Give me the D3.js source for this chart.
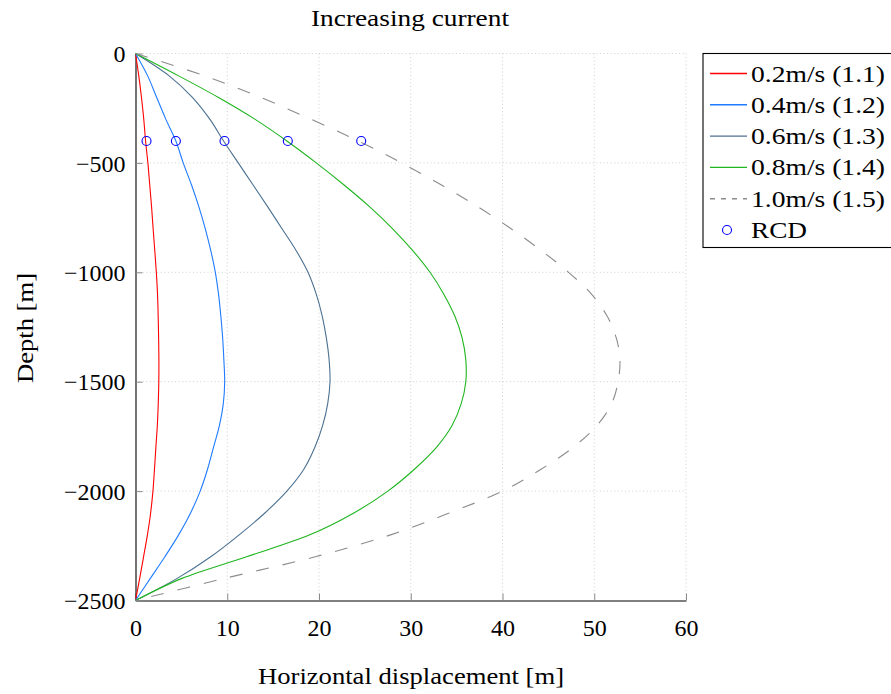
<!DOCTYPE html>
<html>
<head>
    <title>Increasing current</title>
    <script src="https://d3js.org/d3.v7.min.js"></script>
    <style>
        body { margin: 0; background: #fff; }
        text { font-family: "Liberation Serif", "Times New Roman", serif; fill: #000; }
    </style>
</head>
<body>
<script>
// depth samples [m]
const depths = [0, -100, -200, -300, -400, -500, -600, -700, -800, -900, -1000, -1100, -1200,
    -1300, -1400, -1500, -1600, -1700, -1800, -1900, -2000, -2100, -2200, -2300, -2400, -2500];

// horizontal displacement [m] per current speed
const disp02 = [0, 0.35, 0.65, 0.9, 1.1, 1.35, 1.55, 1.75, 1.92, 2.1, 2.27, 2.4, 2.47,
    2.52, 2.55, 2.54, 2.48, 2.38, 2.22, 2.07, 1.9, 1.65, 1.3, 0.88, 0.45, 0];
const disp04 = [0, 1.3, 2.3, 3.3, 4.4, 5.2, 6.1, 6.9, 7.6, 8.2, 8.7, 9.05, 9.3,
    9.5, 9.63, 9.72, 9.57, 9.15, 8.5, 7.85, 7.05, 6.0, 4.7, 3.2, 1.6, 0];
const disp06 = [0, 3.6, 6.2, 8.1, 9.6, 11.2, 12.8, 14.4, 15.95, 17.5, 18.8, 19.7, 20.35,
    20.8, 21.1, 21.2, 20.95, 20.4, 19.55, 18.35, 16.5, 14.1, 11.3, 8.2, 4.5, 0];
const disp08 = [0, 4.6, 9.0, 13.0, 16.5, 19.7, 22.7, 25.5, 28.0, 30.2, 32.1, 33.6, 34.8,
    35.6, 36.0, 36.0, 35.5, 34.5, 32.8, 30.4, 27.5, 23.8, 19.0, 12.1, 5.0, 0];
const disp10 = [0, 7.4, 13.6, 19.1, 24.3, 29.0, 33.3, 37.3, 40.9, 44.2, 47.2, 49.7, 51.4,
    52.4, 52.8, 52.6, 51.9, 50.3, 47.7, 44.2, 40.0, 34.2, 27.8, 19.6, 9.6, 0];

const seriesNames = ['0.2m/s (1.1)', '0.4m/s (1.2)', '0.6m/s (1.3)', '0.8m/s (1.4)', '1.0m/s (1.5)'];
const seriesValues = [disp02, disp04, disp06, disp08, disp10];

// RCD markers
const rcdDepth = -400;
const rcdDisp = [1.2, 4.4, 9.7, 16.6, 24.6];

const xTicks = [0, 10, 20, 30, 40, 50, 60];
const yTicks = [0, -500, -1000, -1500, -2000, -2500];

const colors = ['#ff0000', '#1f7bff', '#4c7191', '#1fb51f', '#8c8c8c'];
const dashes = [null, null, null, null, '13 14'];

const W = 891, H = 694;
const svg = d3.select('body').append('svg')
    .attr('width', W)
    .attr('height', H);

const x = d3.scaleLinear().domain([0, 60]).range([135.5, 686]);
const y = d3.scaleLinear().domain([0, -2500]).range([53.5, 600.5]);

// grid
const grid = svg.append('g').attr('stroke', '#cfcfcf').attr('stroke-dasharray', '1 2.6').attr('stroke-width', 1);
grid.selectAll('.gx').data(xTicks.slice(1)).enter().append('line')
    .attr('x1', d => x(d)).attr('x2', d => x(d))
    .attr('y1', y(0)).attr('y2', y(-2500));
grid.selectAll('.gy').data(yTicks.slice(0, -1)).enter().append('line')
    .attr('x1', x(0)).attr('x2', x(60))
    .attr('y1', d => y(d)).attr('y2', d => y(d));

// axes
const xAxis = svg.append('g')
    .attr('transform', `translate(0,${y(-2500)})`)
    .call(d3.axisBottom(x).tickValues(xTicks).tickSizeInner(-7).tickSizeOuter(0).tickPadding(16).tickFormat(d3.format('d')));
const yAxis = svg.append('g')
    .attr('transform', `translate(${x(0)},0)`)
    .call(d3.axisLeft(y).tickValues(yTicks).tickSizeInner(-7).tickSizeOuter(0).tickPadding(16)
        .tickFormat(d => d === 0 ? '0' : '\u2212' + Math.abs(d)));

[xAxis, yAxis].forEach(a => {
    a.select('.domain').attr('stroke', '#000').attr('stroke-width', 1.1);
    a.selectAll('.tick line').attr('stroke', '#8a8a8a');
    a.selectAll('.tick text')
        .style('font-family', '"Liberation Serif", serif')
        .style('font-size', '24px')
        .attr('fill', '#000');
});
yAxis.selectAll('.tick text').attr('x', -10).attr('dy', '0.34em');
xAxis.selectAll('.tick text').attr('y', 18);

// curves
const line = d3.line()
    .x(d => x(d[0]))
    .y(d => y(d[1]))
    .curve(d3.curveCatmullRom.alpha(0.5));

seriesValues.forEach((vals, i) => {
    svg.append('path')
        .datum(vals.map((v, j) => [v, depths[j]]))
        .attr('d', line)
        .attr('fill', 'none')
        .attr('stroke', colors[i])
        .attr('stroke-width', 1.1)
        .attr('stroke-dasharray', dashes[i]);
});

// RCD markers
svg.selectAll('.rcd').data(rcdDisp).enter().append('circle')
    .attr('cx', d => x(d))
    .attr('cy', y(rcdDepth))
    .attr('r', 4.5)
    .attr('fill', 'none')
    .attr('stroke', '#0000ff')
    .attr('stroke-width', 1.1);

// title and labels
svg.append('text')
    .attr('x', 410).attr('y', 26)
    .attr('text-anchor', 'middle')
    .attr('textLength', 198)
    .attr('lengthAdjust', 'spacingAndGlyphs')
    .style('font-size', '24px')
    .text('Increasing current');

svg.append('text')
    .attr('x', 411).attr('y', 684)
    .attr('text-anchor', 'middle')
    .attr('textLength', 306)
    .attr('lengthAdjust', 'spacingAndGlyphs')
    .style('font-size', '24px')
    .text('Horizontal displacement [m]');

svg.append('text')
    .attr('transform', 'translate(33,328) rotate(-90)')
    .attr('text-anchor', 'middle')
    .attr('textLength', 110)
    .attr('lengthAdjust', 'spacingAndGlyphs')
    .style('font-size', '24px')
    .text('Depth [m]');

// legend
const legend = svg.append('g').attr('transform', 'translate(703,53.5)');
legend.append('rect')
    .attr('x', 0).attr('y', 0)
    .attr('width', 200).attr('height', 194)
    .attr('fill', '#fff')
    .attr('stroke', '#000')
    .attr('stroke-width', 1.1);

const rowY = i => 20 + i * 31.3;
seriesNames.forEach((name, i) => {
    legend.append('line')
        .attr('x1', 7).attr('x2', 44)
        .attr('y1', rowY(i)).attr('y2', rowY(i))
        .style('stroke', colors[i])
        .style('stroke-width', 1.4)
        .style('stroke-dasharray', i === 4 ? '5 6' : 'none');
    legend.append('text')
        .attr('x', 48).attr('y', rowY(i) + 8)
        .attr('textLength', 134)
        .attr('lengthAdjust', 'spacingAndGlyphs')
        .style('font-size', '24px')
        .text(name);
});
legend.append('circle')
    .attr('cx', 24).attr('cy', rowY(5))
    .attr('r', 4.5)
    .attr('fill', 'none')
    .attr('stroke', '#0000ff')
    .attr('stroke-width', 1.1);
legend.append('text')
    .attr('x', 48).attr('y', rowY(5) + 8)
    .attr('textLength', 56)
    .attr('lengthAdjust', 'spacingAndGlyphs')
    .style('font-size', '24px')
    .text('RCD');
</script>
</body>
</html>
